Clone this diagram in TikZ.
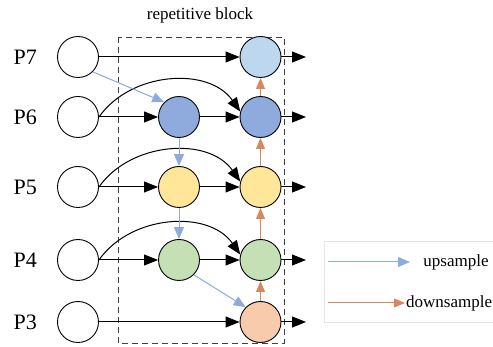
\documentclass[tikz,border=0pt]{standalone}
\usepackage{fontspec}
\setmainfont{Liberation Serif}
\usepackage{xcolor}
\usetikzlibrary{arrows.meta,positioning}
\definecolor{upc}{RGB}{143,170,220}
\definecolor{downc}{RGB}{214,137,94}
\definecolor{fill7}{RGB}{189,215,238}
\definecolor{fill6}{RGB}{143,170,220}
\definecolor{fill5}{RGB}{255,230,153}
\definecolor{fill4}{RGB}{197,224,180}
\definecolor{fill3}{RGB}{248,203,173}
\tikzset{
  feat/.style    ={circle,draw,line width=0.9pt,minimum size=41pt,inner sep=0pt},
  lvl/.style     ={anchor=east,inner sep=0pt,font=\fontsize{22}{24}\selectfont},
  txt/.style     ={inner sep=0pt,font=\fontsize{17}{19}\selectfont},
  flow/.style    ={-{Triangle[length=14pt,width=11pt]},line width=1pt},
  upedge/.style  ={-{Triangle[length=12pt,width=10pt]},draw=upc,fill=upc,line width=1pt},
  downedge/.style={-{Triangle[length=11pt,width=9pt]},draw=downc,fill=downc,line width=1pt},
  blockbox/.style={draw=black!75,dash pattern=on 6pt off 4pt,line width=0.8pt},
  legendbox/.style={draw=black!10,line width=0.8pt},
}
\begin{document}
\begin{tikzpicture}[x=1pt,y=1pt]
  \useasboundingbox (0,0) rectangle (493,-347);
  \draw[blockbox] (118,-37) rectangle (284,-343);
  \node[txt](blk) at (200,-15){repetitive block};
  \foreach \k/\y/\c in {7/-57/fill7,6/-117/fill6,5/-187/fill5,4/-260/fill4,3/-322/fill3}{
    \node[lvl](lab\k) at (37,\y){P\k};
    \node[feat](in\k) at (78,\y){};
    \node[feat,fill=\c](out\k) at (260.5,\y){};
    \coordinate (end\k) at (306,\y);
    \draw[flow](out\k.east)--(end\k);}
  \foreach \k/\y/\c in {6/-117/fill6,5/-187/fill5,4/-260/fill4}{
    \node[feat,fill=\c](mid\k) at (179,\y){};
    \draw[flow](in\k.east)--(mid\k.west);
    \draw[flow](mid\k.east)--(out\k.west);
    \draw[flow](in\k.east) to[out=55,in=125](out\k.165);}
  \draw[flow](in7.east)--(out7.west);
  \draw[flow](in3.east)--(out3.west);
  \draw[upedge](in7.south east)--(mid6.north west);
  \draw[upedge](mid6.south)--(mid5.north);
  \draw[upedge](mid5.south)--(mid4.north);
  \draw[upedge](mid4.south east)--(out3.north west);
  \foreach \a/\b in {3/4,4/5,5/6,6/7}{\draw[downedge](out\a.north)--(out\b.south);}
  \draw[legendbox] (324,-241) rectangle (493,-322);
  \coordinate (ua) at (328,-262); \coordinate (ub) at (410,-262);
  \coordinate (da) at (328,-303); \coordinate (db) at (405,-303);
  \draw[upedge](ua)--(ub);
  \draw[downedge](da)--(db);
  \node[txt](uptxt) at (456,-262){upsample};
  \node[txt,anchor=west](downtxt) at (406,-303){downsample};
\end{tikzpicture}
\end{document}
